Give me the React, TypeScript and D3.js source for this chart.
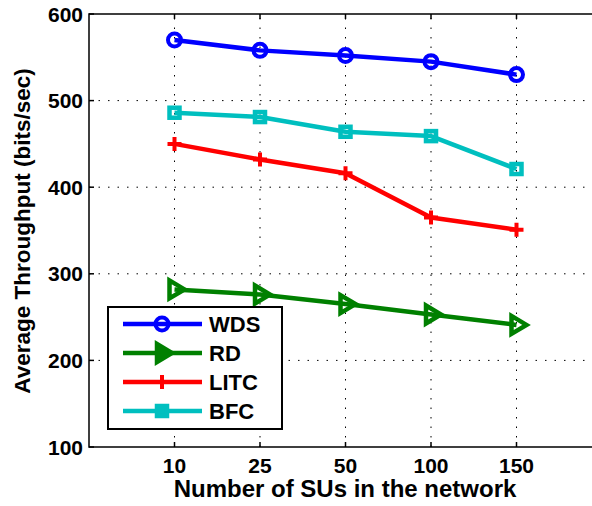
import React from "react";
import * as d3 from "d3";

// Number of SUs (categorical ticks)
const categories = ["10", "25", "50", "100", "150"];
const wds = [570, 558, 552, 545, 530];
const rd = [282, 276, 265, 253, 241];
const litc = [450, 432, 416, 365, 351];
const bfc = [486, 481, 464, 459, 421];
const yTicks = [100, 200, 300, 400, 500, 600];

const series = [
  { name: "WDS", values: wds, color: "#0000ff", marker: "circle" },
  { name: "RD", values: rd, color: "#008000", marker: "triangle" },
  { name: "LITC", values: litc, color: "#ff0000", marker: "plus" },
  { name: "BFC", values: bfc, color: "#00bfbf", marker: "square" },
];

const W = 592;
const H = 506;
const font = "'Liberation Sans', Arial, sans-serif";

const Marker = ({ kind, color, x, y, filled }: { kind: string; color: string; x: number; y: number; filled?: boolean }) => {
  const t = `translate(${x},${y})`;
  const fill = filled ? color : "none";
  if (kind === "circle")
    return <circle transform={t} r={6.5} fill="none" stroke={color} strokeWidth={4} />;
  if (kind === "triangle")
    return <path transform={t} d="M-5,-9L-5,9L10,0Z" fill={fill} stroke={color} strokeWidth={4.5} strokeLinejoin="miter" />;
  if (kind === "plus")
    return <path transform={t} d="M-7,0H7M0,-7V7" stroke={color} strokeWidth={4} />;
  return <rect transform={t} x={-5} y={-5} width={10} height={10} fill={fill} stroke={color} strokeWidth={4.5} />;
};

export default function App() {
  const x = d3.scaleLinear().domain([0, 6]).range([89, 602]);
  const y = d3.scaleLinear().domain([100, 600]).range([447, 14]);
  const line = d3
    .line<number>()
    .x((_, i) => x(i + 1))
    .y((d) => y(d));

  const legendRows = [324, 353, 382, 411];

  return (
    <svg width={W} height={H} style={{ position: "absolute", left: 0, top: 0, background: "#fff" }}>
      {/* grid */}
      {yTicks.slice(1, -1).map((t) => (
        <line key={"gy" + t} x1={x(0)} x2={x(6)} y1={y(t)} y2={y(t)} stroke="#000" strokeWidth={1} strokeDasharray="1.5,8" />
      ))}
      {categories.map((c, i) => (
        <line key={"gx" + c} x1={x(i + 1)} x2={x(i + 1)} y1={y(100)} y2={y(600)} stroke="#000" strokeWidth={1} strokeDasharray="1.5,8" />
      ))}
      {/* ticks */}
      {yTicks.map((t) => (
        <line key={"ty" + t} x1={x(0)} x2={x(0) + 5} y1={y(t)} y2={y(t)} stroke="#000" strokeWidth={1.5} />
      ))}
      {categories.map((c, i) => (
        <g key={"tx" + c}>
          <line x1={x(i + 1)} x2={x(i + 1)} y1={y(100)} y2={y(100) - 5} stroke="#000" strokeWidth={1.5} />
          <line x1={x(i + 1)} x2={x(i + 1)} y1={y(600)} y2={y(600) + 5} stroke="#000" strokeWidth={1.5} />
        </g>
      ))}
      {/* frame */}
      <path d={`M${x(6)},${y(600)}H${x(0)}V${y(100)}H${x(6)}`} fill="none" stroke="#000" strokeWidth={1.5} />

      {/* series */}
      {series.map((s) => (
        <g key={s.name}>
          <path d={line(s.values) || ""} fill="none" stroke={s.color} strokeWidth={4.5} strokeLinejoin="round" />
          {s.values.map((v, i) => (
            <Marker key={i} kind={s.marker} color={s.color} x={x(i + 1)} y={y(v)} />
          ))}
        </g>
      ))}

      {/* tick labels */}
      {yTicks.map((t) => (
        <text key={"ly" + t} x={x(0) - 6} y={y(t)} dy="0.36em" textAnchor="end" fontFamily={font} fontWeight="bold" fontSize={21}>
          {t}
        </text>
      ))}
      {categories.map((c, i) => (
        <text key={"lx" + c} x={x(i + 1)} y={473} textAnchor="middle" fontFamily={font} fontWeight="bold" fontSize={21}>
          {c}
        </text>
      ))}

      {/* axis titles */}
      <text x={345} y={497} textAnchor="middle" fontFamily={font} fontWeight="bold" fontSize={24}>
        Number of SUs in the network
      </text>
      <text transform={`translate(30,231) rotate(-90)`} textAnchor="middle" fontFamily={font} fontWeight="bold" fontSize={22.5}>
        Average Throughput (bits/sec)
      </text>

      {/* legend */}
      <rect x={108} y={307} width={174} height={122} fill="#fff" stroke="#000" strokeWidth={2} />
      {series.map((s, i) => (
        <g key={"lg" + s.name}>
          <line x1={123} x2={202} y1={legendRows[i]} y2={legendRows[i]} stroke={s.color} strokeWidth={4.5} />
          <Marker kind={s.marker} color={s.color} x={162} y={legendRows[i]} filled />
          <text x={209} y={legendRows[i]} dy="0.36em" fontFamily={font} fontWeight="bold" fontSize={22}>
            {s.name}
          </text>
        </g>
      ))}
    </svg>
  );
}
